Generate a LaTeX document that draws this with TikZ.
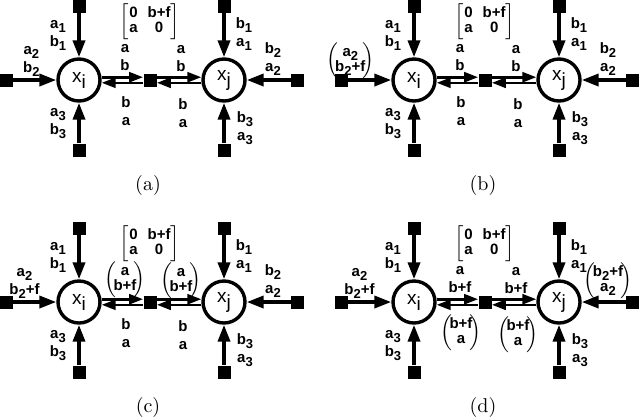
\documentclass[tikz,border=0pt]{standalone}
\usepackage{fontspec}
\setsansfont{Liberation Sans}
\usetikzlibrary{arrows.meta,positioning}
\tikzset{
  % variable circles and factor squares
  var/.style = {circle, draw, line width=1.7pt, minimum size=21pt, inner sep=0pt,
                font=\sffamily\fontsize{9.5}{10}\selectfont},
  fac/.style = {rectangle, fill=black, minimum size=6.5pt, inner sep=0pt},
  arr/.style = {-{Triangle[length=8.5pt,width=6pt]}, line width=1.8pt},
  msg/.style = {-{Triangle[length=7pt,width=5pt]}, line width=1.3pt},
  lbl/.style = {font=\sffamily\bfseries\fontsize{7.5}{9}\selectfont, align=center, inner sep=0pt},
  subcap/.style = {font=\fontsize{10}{12}\selectfont},
}
\newcommand{\subs}[2]{#1\raisebox{-2pt}{\fontsize{6.5}{7}\selectfont #2}}
\newcommand{\pv}[2]{$\left(\!\renewcommand{\arraystretch}{0.85}\begin{tabular}{@{}c@{}}#1\\#2\end{tabular}\!\right)$}
\newcommand{\mtx}{$\left[\renewcommand{\arraystretch}{0.8}\begin{tabular}{@{}l@{\hspace{5pt}}c@{}}0 & b+f\\a & 0\end{tabular}\right]$}
% one panel: shift, prefix, left label, right label, upper messages, lower messages, caption
\newcommand{\panel}[7]{%
\begin{scope}[shift={(#1)}, name prefix=#2-]
% --- variables and factors -------------------------------------------
\node[var] (xi) at (79,80)  {x\raisebox{-3pt}{i}};
\node[var] (xj) at (224,80) {x\raisebox{-3pt}{j}};
\node[fac] (ti) at (79,6.5)   {};
\node[fac] (li) at (6.5,80)   {};
\node[fac] (bi) at (79,150)   {};
\node[fac] (m)  at (150,80)   {};
\node[fac] (tj) at (224,6.5)  {};
\node[fac] (rj) at (297.5,80) {};
\node[fac] (bj) at (224,150)  {};
% --- incoming arrows ---------------------------------------------------
\foreach \a/\b in {ti/xi, li/xi, bi/xi, tj/xj, rj/xj, bj/xj} {\draw[arr] (\a) -- (\b);}
% --- messages through the middle factor -------------------------------
\draw[msg] ([yshift=1.4pt]xi.east) -- ([yshift=1.4pt]m.west);
\draw[msg] ([yshift=1.4pt]m.east) -- ([yshift=1.4pt]xj.west);
\draw[msg] ([yshift=-1.4pt]xj.west) -- ([yshift=-1.4pt]m.east);
\draw[msg] ([yshift=-1.4pt]m.west) -- ([yshift=-1.4pt]xi.east);
% --- labels ------------------------------------------------------------
\node[lbl] (lt)  at (58,35)   {\subs a1\\\subs b1};
\node[lbl, anchor=east] (ll) at (40,61) {#3};
\node[lbl] (lb)  at (58,124)  {\subs a3\\\subs b3};
\node[lbl] (rt)  at (244,34)  {\subs b1\\\subs a1};
\node[lbl] (rr)  at (273,59)  {#4};
\node[lbl] (rb)  at (245,128) {\subs b3\\\subs a3};
\node[lbl, anchor=north] (mx) at (150,3) {\mtx};
\node[lbl] (mu1) at (125,58)  {#5};
\node[lbl] (mu2) at (181,59)  {#5};
\node[lbl] (md1) at (126,111) {#6};
\node[lbl] (md2) at (183,113) {#6};
\node[subcap] (cp) at (148,185) {#7};
\end{scope}}

\begin{document}
\begin{tikzpicture}[x=0.5pt, y=-0.5pt]
\useasboundingbox (0,0) rectangle (640,419);
\panel{0,0}{a}{\subs a2\\\subs b2}{\subs b2\\\subs a2}{a\\b}{b\\a}{(a)}
\panel{335,0}{b}{\pv{\subs a2}{\subs b2+f}}{\subs b2\\\subs a2}{a\\b}{b\\a}{(b)}
\panel{0,222}{c}{\subs a2\\\subs b2+f}{\subs b2\\\subs a2}{\pv{a}{b+f}}{b\\a}{(c)}
\panel{335,222}{d}{\subs a2\\\subs b2+f}{\pv{\subs b2+f}{\subs a2}}{a\\b+f}{\pv{b+f}{a}}{(d)}
\end{tikzpicture}
\end{document}
